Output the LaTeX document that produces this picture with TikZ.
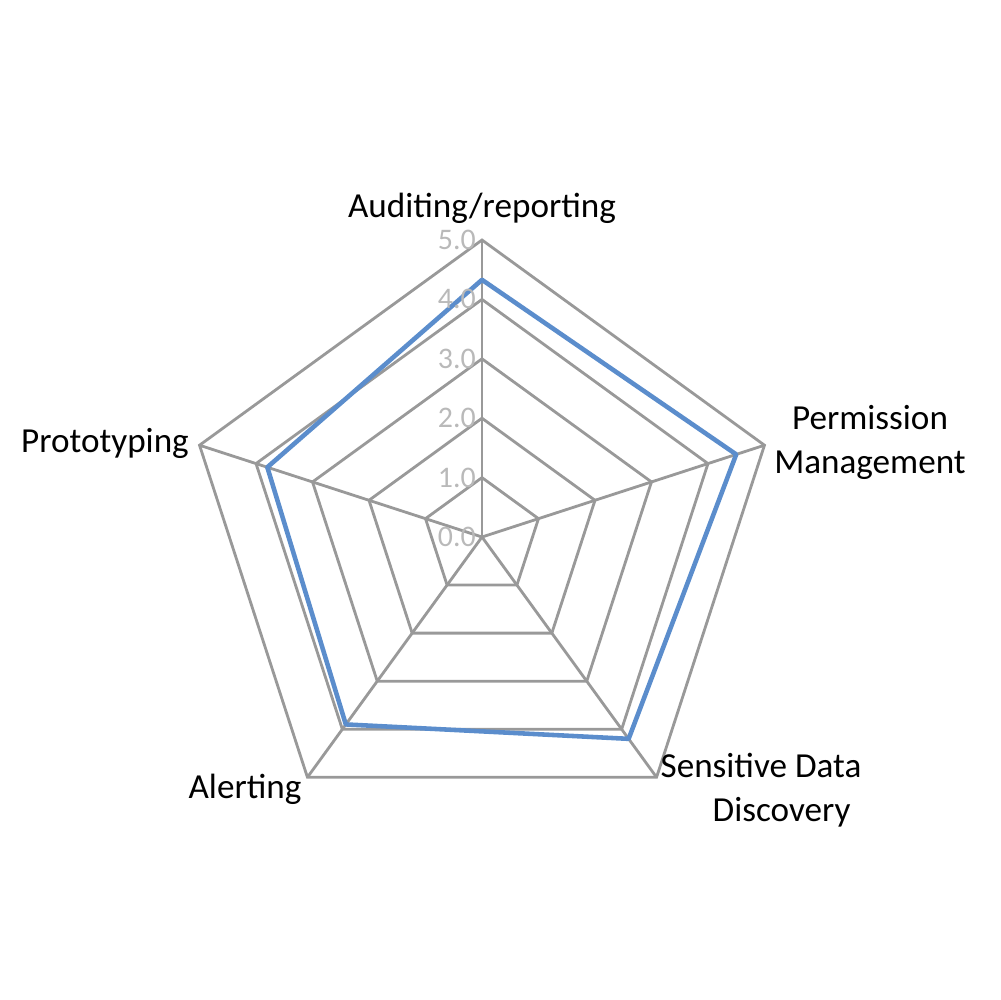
\documentclass[tikz,border=0pt]{standalone}
\usepackage{fontspec}
\setmainfont{Carlito}
\definecolor{series}{RGB}{91,141,204}
\begin{document}
\begin{tikzpicture}[x=0.1mm,y=-0.1mm,
  grid/.style={draw=gray!80,line width=0.8pt,line join=miter},
  data/.style={draw=series,line width=1.3pt,line join=round},
  lab/.style={font=\fontsize{10}{12.5}\selectfont,align=center,inner sep=1pt},
  tick/.style={font=\fontsize{8.5}{10}\selectfont,text=gray!55,inner sep=1pt}]
\useasboundingbox (0,0) rectangle (1000,1000);
\begin{scope}[shift={(482,537)},yscale=-1]
\foreach \r in {1,...,5}{
  \draw[grid] (90:\r*59.4) -- (18:\r*59.4) -- (-54:\r*59.4) -- (-126:\r*59.4) -- (-198:\r*59.4) -- cycle;
}
\foreach \a in {90,18,-54,-126,-198}{ \draw[grid] (0,0) -- (\a:297); }
\draw[data] (90:4.33*59.4) -- (18:4.5*59.4) -- (-54:4.2*59.4) -- (-126:3.9*59.4) -- (-198:3.8*59.4) -- cycle;
\foreach \v in {0,...,5}{ \node[tick,anchor=east] (t\v) at (-2,\v*59.4) {\v.0}; }
\node[lab] (l1) at (482-482,537-208) {Auditing/reporting};
\node[lab] (l2) at (870-482,537-442) {Permission\\Management};
\node[lab,align=left] (l3) at (761-482,537-790) {Sensitive Data\\\phantom{Sen}Discovery};
\node[lab] (l4) at (245-482,537-789) {Alerting};
\node[lab] (l5) at (105-482,537-443) {Prototyping};
\end{scope}
\end{tikzpicture}
\end{document}
